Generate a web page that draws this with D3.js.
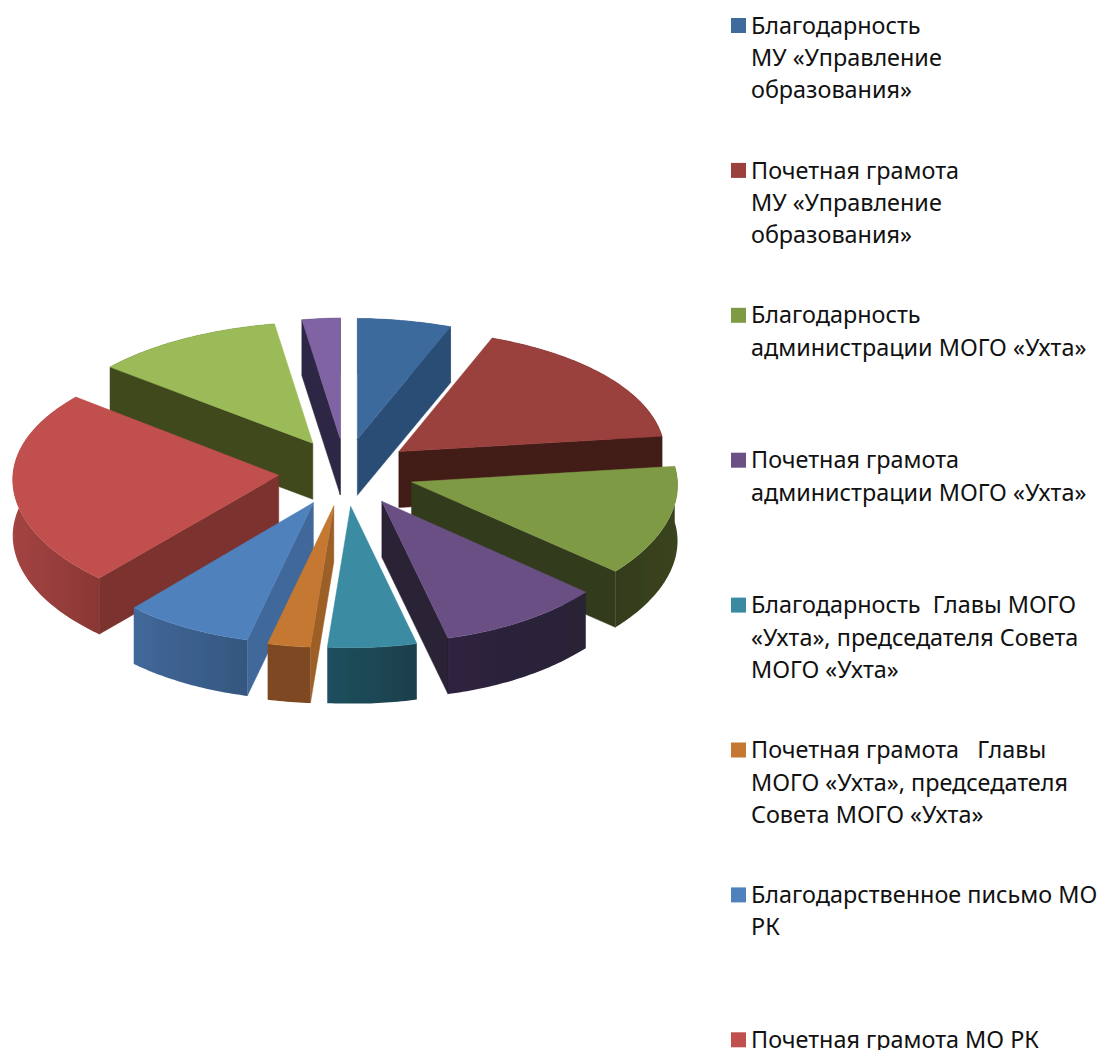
<!DOCTYPE html>
<html lang="ru"><head><meta charset="utf-8">
<script src="https://cdn.jsdelivr.net/npm/d3@7/dist/d3.min.js"></script>
<style>html,body{margin:0;padding:0;background:#fff;overflow:hidden}svg{display:block}</style>
</head><body><div id="chart"></div>
<script>
// Data
const sliceNames = ["Благодарность МУ","Почетная грамота МУ","Благодарность администрации","Почетная грамота администрации","Благодарность Главы","Почетная грамота Главы","Благодарственное письмо МО РК","Почетная грамота МО РК","Серия 9","Серия 10"];
const sliceValues = [5.7,17.0,13.4,9.9,5.4,2.6,7.8,24.4,11.5,2.3];
const topColors  = ["#3E6A9C","#9A403D","#7F9A45","#6B5085","#3A8BA2","#C47832","#4F81BD","#C0504D","#9BBB59","#8064A2"];
const wallColors = ["#2C4D74","#421A17","#333B1C","#2A2036","#1F4F5E","#9C5E28","#41689A","#7B302E","#40491F","#2F2745"];
const arcLeft    = ["#2C4D74","#421A17","#333B1C","#2E2240","#1F4F5E","#7E4A20","#41689A","#A34442","#40491F","#2F2745"];
const arcRight   = ["#2C4D74","#421A17","#3A441F","#292035","#1A3F4A","#7E4A20","#34577F","#8A3734","#40491F","#2F2745"];
const legendLines = [
  ["Благодарность","МУ «Управление","образования»"],
  ["Почетная грамота","МУ «Управление","образования»"],
  ["Благодарность","администрации МОГО «Ухта»"],
  ["Почетная грамота","администрации МОГО «Ухта»"],
  ["Благодарность  Главы МОГО","«Ухта», председателя Совета","МОГО «Ухта»"],
  ["Почетная грамота   Главы","МОГО «Ухта», председателя","Совета МОГО «Ухта»"],
  ["Благодарственное письмо МО","РК"],
  ["Почетная грамота МО РК"]
];

const W=1100,H=1050;
const svg=d3.select("#chart").append("svg").attr("width",W).attr("height",H).attr("viewBox",[0,0,W,H]);
const defs=svg.append("defs");
defs.append("filter").attr("id","soft").append("feGaussianBlur").attr("stdDeviation",0.6);

// Projection: horizontal stays linear, the depth axis has a slight perspective and sag to the sides
const cx=345, cy=469, R=266, A=130, persp=0.066, explode=0.26, depth=56;
const sx=d3.scaleLinear().domain([-1,1]).range([cx-R,cx+R]);
const sag=(u,v)=>3*Math.max(0,1-(v/1.25)*(v/1.25))+(u<0?4.5:3)*Math.abs(u);
const sy=(u,v)=>cy+A*v/(1-persp*v)+sag(u,v);

const pie=d3.pie().sort(null).value(d=>d).startAngle(0).endAngle(2*Math.PI);
const arcs=pie(sliceValues).map((a,i)=>{
  const mid=(a.startAngle+a.endAngle)/2;
  const ou=explode*Math.sin(mid)*(Math.sin(mid)<0?0.96:1), ov=-explode*Math.cos(mid);
  const P=(r,t,dz=0)=>{const u=ou+r*Math.sin(t), v=ov-r*Math.cos(t); return [sx(u), sy(u,v)+dz];};
  return {i,a,mid,P,ov};
});
const line=d3.line();
const arcAngles=a=>{const n=Math.max(3,Math.ceil((a.endAngle-a.startAngle)/0.015));return d3.range(n+1).map(k=>a.startAngle+(a.endAngle-a.startAngle)*k/n)};

const g=svg.append("g").attr("filter","url(#soft)");
arcs.slice().sort((p,q)=>p.ov-q.ov).forEach(s=>{
  const {i,a,P}=s, ts=arcAngles(a);
  const sg=g.append("g").attr("class","slice");
  // radial walls that face the viewer
  const faces=[];
  if(Math.sin(a.startAngle)<0) faces.push(a.startAngle);
  if(Math.sin(a.endAngle)>0) faces.push(a.endAngle);
  faces.forEach(t=>{
    sg.append("path").attr("d",line([P(0,t),P(1,t),P(1,t,depth),P(0,t,depth)])+"Z")
      .attr("fill",wallColors[i]).attr("stroke",wallColors[i]).attr("stroke-width",.5);
  });
  // outer wall with a horizontal gradient
  const top=ts.map(t=>P(1,t)), bot=ts.map(t=>P(1,t,depth)).reverse();
  const xs=d3.extent(top,d=>d[0]);
  const id="w"+i;
  const lg=defs.append("linearGradient").attr("id",id).attr("gradientUnits","userSpaceOnUse")
    .attr("x1",xs[0]).attr("x2",xs[1]).attr("y1",0).attr("y2",0);
  lg.append("stop").attr("offset",0).attr("stop-color",arcLeft[i]);
  lg.append("stop").attr("offset",1).attr("stop-color",arcRight[i]);
  sg.append("path").attr("d",line(top.concat(bot))+"Z").attr("fill",`url(#${id})`);
  // top face
  sg.append("path").attr("d",line([P(0,a.startAngle)].concat(top))+"Z")
    .attr("fill",topColors[i]).attr("stroke",topColors[i]).attr("stroke-width",.5);
});

// Legend
const legX=731, sw=15, legY=d3.scaleLinear().domain([0,1]).range([25.5,170.4]), lineH=32.4;
const lg=svg.append("g").attr("font-family","'Noto Sans',sans-serif").attr("font-size",23.4).attr("fill","#111");
legendLines.forEach((lines,i)=>{
  const y=legY(i);
  lg.append("rect").attr("x",legX).attr("y",y-7.5).attr("width",sw).attr("height",sw).attr("fill",topColors[i]);
  lines.forEach((t,j)=>{
    lg.append("text").attr("x",legX+20).attr("y",y+j*lineH).attr("dy","0.35em").style("white-space","pre").text(t);
  });
});
</script></body></html>
